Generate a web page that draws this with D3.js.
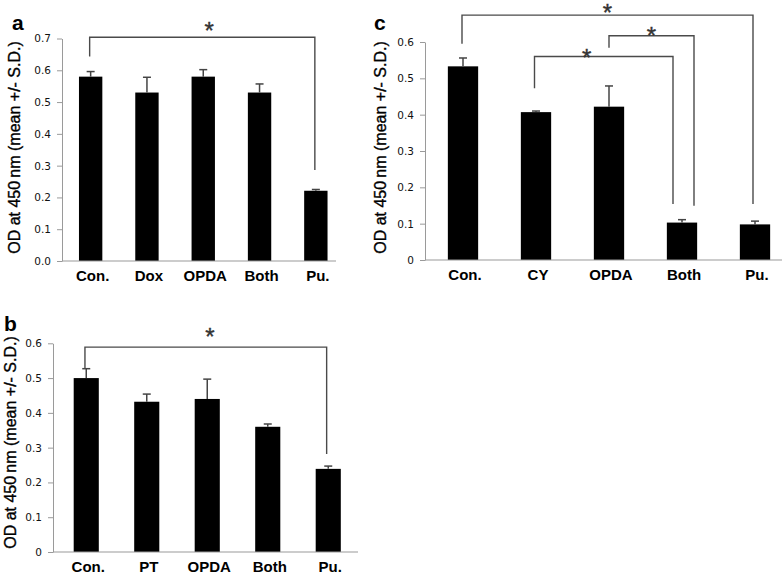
<!DOCTYPE html>
<html>
<head>
<meta charset="utf-8">
<script src="https://cdn.jsdelivr.net/npm/d3@7"></script>
<style>
html,body{margin:0;padding:0;background:#fff;}
svg{display:block;}
</style>
</head>
<body>
<svg id="chart" width="784" height="573"></svg>
<script>
// ---------- DATA ----------
const catsA = ["Con.", "Dox", "OPDA", "Both", "Pu."];
const valsA = [0.58, 0.53, 0.58, 0.53, 0.221];
const errsA = [0.016, 0.048, 0.022, 0.027, 0.004];
const ticksA = [0, 0.1, 0.2, 0.3, 0.4, 0.5, 0.6, 0.7];

const catsB = ["Con.", "PT", "OPDA", "Both", "Pu."];
const valsB = [0.50, 0.432, 0.44, 0.36, 0.239];
const errsB = [0.027, 0.022, 0.057, 0.008, 0.008];
const ticksB = [0, 0.1, 0.2, 0.3, 0.4, 0.5, 0.6];

const catsC = ["Con.", "CY", "OPDA", "Both", "Pu."];
const valsC = [0.533, 0.407, 0.422, 0.103, 0.098];
const errsC = [0.023, 0.003, 0.057, 0.008, 0.009];
const ticksC = [0, 0.1, 0.2, 0.3, 0.4, 0.5, 0.6];

// significance brackets: categories and heights in data units
const bracketsA = [{from: "Con.", to: "Pu.", top: 0.704, fromEnd: 0.643, toEnd: 0.286, label: "*"}];
const bracketsB = [{from: "Con.", to: "Pu.", top: 0.589, fromEnd: 0.527, toEnd: 0.282, label: "*"}];
const bracketsC = [
  {from: "Con.", to: "Pu.", top: 0.674, fromEnd: 0.595, toEnd: 0.154, label: "*"},
  {from: "OPDA", to: "Both", top: 0.617, fromEnd: 0.584, toEnd: 0.149, label: "*"},
  {from: "CY", to: "Both", top: 0.560, fromEnd: 0.473, toEnd: 0.154, label: "*"}
];

const yTitle = "OD at 450\u2009nm (mean +/- S.D.)";

// ---------- LAYOUT ----------
const panels = [
  {letter: "a", cats: catsA, vals: valsA, errs: errsA, ticks: ticksA, brackets: bracketsA,
   fmt: d3.format(".1f"), yMax: 0.7,
   xr: [62.5, 344], axisEnd: 336, yr: [261, 38.5], axisX: 62,
   letterX: 12, letterY: 30, titleX: 20, titleY: 147.5,
   fromDx: [-1], toDx: [-1], starDx: [7], starY: 0.742},
  {letter: "b", cats: catsB, vals: valsB, errs: errsB, ticks: ticksB, brackets: bracketsB,
   fmt: d => d === 0 ? "0" : d3.format(".1f")(d), yMax: 0.6,
   xr: [56, 358.5], axisEnd: 358, yr: [552, 343.3], axisX: 53,
   letterX: 4, letterY: 331, titleX: 16, titleY: 442.5,
   fromDx: [-1.3], toDx: [-1.6], starDx: [4], starY: 0.634},
  {letter: "c", cats: catsC, vals: valsC, errs: errsC, ticks: ticksC, brackets: bracketsC,
   fmt: d => d === 0 ? "0" : d3.format(".1f")(d), yMax: 0.6,
   xr: [426.5, 791.5], axisEnd: 782, yr: [260, 42], axisX: 425,
   letterX: 374, letterY: 30, titleX: 386, titleY: 147.5,
   fromDx: [-1, 0, -1.5], toDx: [-2, 12, -9], starDx: [0, 0, -17], starYs: [0.696, 0.633, 0.57]}
];

const svg = d3.select("#chart");
const axisColor = "#9a9a9a";

panels.forEach(p => {
  const g = svg.append("g");
  const x = d3.scaleBand().domain(p.cats).range(p.xr).paddingInner(0.585).paddingOuter(0.2925);
  const y = d3.scaleLinear().domain([0, p.yMax]).range(p.yr);

  // y axis
  const ax = g.append("g")
    .attr("transform", `translate(${p.axisX},0)`)
    .call(d3.axisLeft(y).tickValues(p.ticks).tickFormat(p.fmt).tickSize(5).tickSizeOuter(0).tickPadding(6));
  ax.select(".domain").attr("stroke", axisColor).attr("stroke-width", 1);
  ax.selectAll(".tick line").attr("stroke", axisColor);
  ax.selectAll(".tick text").attr("fill", "#111")
    .style("font-family", "'DejaVu Sans', Verdana, sans-serif").style("font-size", "10.5px");

  // bars
  g.selectAll("rect.bar").data(p.vals).join("rect")
    .attr("class", "bar")
    .attr("x", (d, i) => x(p.cats[i]))
    .attr("width", x.bandwidth())
    .attr("y", d => y(d))
    .attr("height", d => y(0) - y(d))
    .attr("fill", "#000");

  // error bars (upper only)
  const capW = 8;
  p.vals.forEach((v, i) => {
    const cx = x(p.cats[i]) + x.bandwidth() / 2;
    g.append("line").attr("x1", cx).attr("x2", cx)
      .attr("y1", y(v)).attr("y2", y(v + p.errs[i]))
      .attr("stroke", "#444").attr("stroke-width", 1.5);
    g.append("line").attr("x1", cx - capW / 2).attr("x2", cx + capW / 2)
      .attr("y1", y(v + p.errs[i])).attr("y2", y(v + p.errs[i]))
      .attr("stroke", "#444").attr("stroke-width", 1.5);
  });

  // x axis line
  g.append("line").attr("x1", p.axisX).attr("x2", p.axisEnd)
    .attr("y1", y(0)).attr("y2", y(0))
    .attr("stroke", axisColor).attr("stroke-width", 1.2);

  // x labels
  g.selectAll("text.xl").data(p.cats).join("text")
    .attr("class", "xl")
    .attr("x", d => x(d) + x.bandwidth() / 2 + 2)
    .attr("y", y(0) + 19.5)
    .attr("text-anchor", "middle")
    .style("font-family", "'Liberation Sans', Arial, sans-serif")
    .style("font-weight", "bold").style("font-size", "15px")
    .attr("fill", "#000")
    .text(d => d);

  // brackets
  p.brackets.forEach((b, k) => {
    const x1 = x(b.from) + x.bandwidth() / 2 + p.fromDx[k];
    const x2 = x(b.to) + x.bandwidth() / 2 + p.toDx[k];
    const path = d3.path();
    path.moveTo(x1, y(b.fromEnd));
    path.lineTo(x1, y(b.top));
    path.lineTo(x2, y(b.top));
    path.lineTo(x2, y(b.toEnd));
    g.append("path").attr("d", path.toString())
      .attr("fill", "none").attr("stroke", "#4a4a4a").attr("stroke-width", 1.4);
    const sy = p.starYs ? p.starYs[k] : p.starY;
    g.append("text")
      .attr("x", (x1 + x2) / 2 + p.starDx[k])
      .attr("y", y(sy) + 13.5)
      .attr("text-anchor", "middle")
      .style("font-family", "'Liberation Sans', Arial, sans-serif")
      .style("font-size", "24px")
      .attr("fill", "#333")
      .attr("stroke", "#333").attr("stroke-width", 0.4)
      .text(b.label);
  });

  // y title
  g.append("text")
    .attr("transform", `translate(${p.titleX},${p.titleY}) rotate(-90)`)
    .attr("text-anchor", "middle")
    .style("font-family", "'Liberation Sans', Arial, sans-serif")
    .style("font-size", "16px")
    .attr("fill", "#000")
    .attr("stroke", "#000").attr("stroke-width", 0.35)
    .text(yTitle);

  // panel letter
  g.append("text")
    .attr("x", p.letterX).attr("y", p.letterY)
    .style("font-family", "'Liberation Sans', Arial, sans-serif")
    .style("font-weight", "bold").style("font-size", "21px")
    .attr("fill", "#000")
    .text(p.letter);
});
</script>
</body>
</html>
